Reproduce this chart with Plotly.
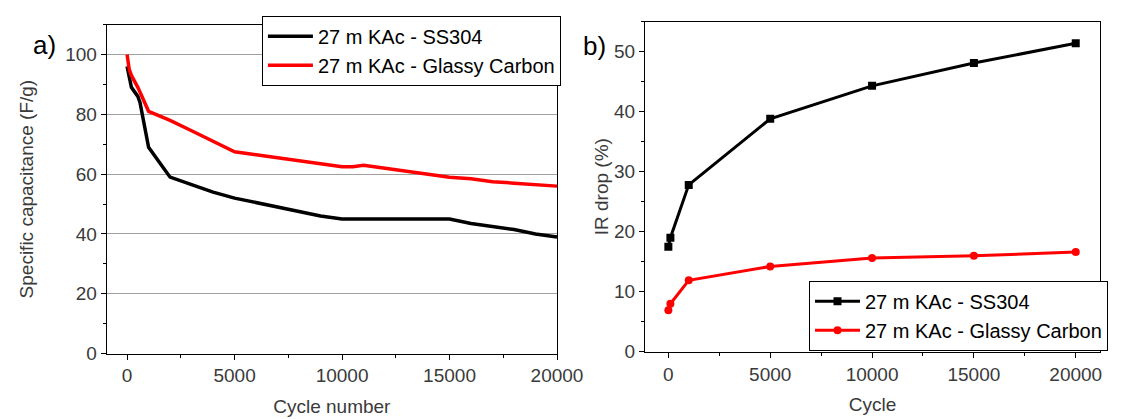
import plotly.graph_objects as go

# Panel a) specific capacitance vs cycle number
cap_ss_x = [0, 100, 200, 300, 500, 600, 700, 1000, 1500, 2000, 3000, 4000, 5000, 6000, 7000,
            8000, 9000, 10000, 11000, 12000, 13000, 14000, 15000, 16000, 17000, 18000, 19000, 20000]
cap_ss_y = [96, 93, 89, 88, 86, 84, 80, 69, 64, 59, 56.5, 54, 52, 50.5, 49,
            47.5, 46, 45, 45, 45, 45, 45, 45, 43.5, 42.5, 41.5, 40, 39]
cap_gc_x = [0, 100, 200, 500, 1000, 2000, 3000, 4000, 5000, 6000, 7000, 8000, 9000, 10000,
            10500, 11000, 12000, 13000, 14000, 15000, 16000, 17000, 18000, 19000, 20000]
cap_gc_y = [100, 95, 93, 89, 81, 78, 74.5, 71, 67.5, 66.5, 65.5, 64.5, 63.5, 62.5,
            62.5, 63, 62, 61, 60, 59, 58.5, 57.5, 57, 56.5, 56]

# Panel b) IR drop vs cycle
ir_x = [0, 100, 1000, 5000, 10000, 15000, 20000]
ir_ss = [17.5, 19, 27.8, 38.8, 44.3, 48.1, 51.4]
ir_gc = [6.9, 8.0, 11.9, 14.2, 15.6, 16.0, 16.6]

name_ss = "27 m KAc - SS304"
name_gc = "27 m KAc - Glassy Carbon"

FONT = "Liberation Sans, Arial, sans-serif"
TXT = "#3a3a3a"
FS = 19

fig = go.Figure()
fig.add_trace(go.Scatter(x=cap_ss_x, y=cap_ss_y, mode="lines", name=name_ss,
                         line=dict(color="black", width=3.5), xaxis="x", yaxis="y", legend="legend"))
fig.add_trace(go.Scatter(x=cap_gc_x, y=cap_gc_y, mode="lines", name=name_gc,
                         line=dict(color="#ff0000", width=3.5), xaxis="x", yaxis="y", legend="legend"))
fig.add_trace(go.Scatter(x=ir_x, y=ir_ss, mode="lines+markers", name=name_ss,
                         line=dict(color="black", width=3),
                         marker=dict(symbol="square", size=8, color="black"),
                         xaxis="x2", yaxis="y2", legend="legend2"))
fig.add_trace(go.Scatter(x=ir_x, y=ir_gc, mode="lines+markers", name=name_gc,
                         line=dict(color="#ff0000", width=3),
                         marker=dict(symbol="circle", size=8, color="#ff0000"),
                         xaxis="x2", yaxis="y2", legend="legend2"))

axcommon = dict(showline=True, linecolor="black", linewidth=1, mirror=True,
                ticks="outside", ticklen=5, tickcolor="black", zeroline=False,
                tickformat="d",
                tickfont=dict(family=FONT, size=FS, color=TXT))
titlefont = dict(family=FONT, size=FS, color=TXT)

fig.update_layout(
    width=1126, height=419,
    margin=dict(l=0, r=0, t=0, b=0),
    paper_bgcolor="white", plot_bgcolor="white",
    font=dict(family=FONT, color=TXT),
    xaxis=dict(domain=[101/1126, 562/1126], range=[-950, 20000], tickvals=[0, 5000, 10000, 15000, 20000],
               minor=dict(ticks="outside", ticklen=3, tickcolor="black", dtick=2500, tick0=0),
               showgrid=False, anchor="y",
               title=dict(text="Cycle number", font=titlefont, standoff=14),
               **axcommon),
    yaxis=dict(domain=[1-355/419, 1-17/419], range=[0, 110], tickvals=[0, 20, 40, 60, 80, 100],
               minor=dict(ticks="outside", ticklen=3, tickcolor="black", dtick=10, tick0=0),
               showgrid=True, gridcolor="#a0a0a0", gridwidth=1, anchor="x",
               title=dict(text="Specific capacitance (F/g)", font=titlefont, standoff=26),
               **axcommon),
    xaxis2=dict(domain=[652/1126, 1118/1126], range=[-1150, 21200], tickvals=[0, 5000, 10000, 15000, 20000],
                minor=dict(ticks="outside", ticklen=3, tickcolor="black", dtick=2500, tick0=0),
                showgrid=False, anchor="y2",
                title=dict(text="Cycle", font=titlefont, standoff=14),
                **axcommon),
    yaxis2=dict(domain=[1-353/419, 1-14/419], range=[0, 55], tickvals=[0, 10, 20, 30, 40, 50],
                minor=dict(ticks="outside", ticklen=3, tickcolor="black", dtick=5, tick0=0),
                showgrid=False, anchor="x2",
                title=dict(text="IR drop (%)", font=titlefont, standoff=0),
                **axcommon),
    legend=dict(x=566/1126, y=1-8/419, xanchor="right", yanchor="top",
                bgcolor="white", bordercolor="black", borderwidth=1,
                font=dict(family=FONT, size=20, color="black"), tracegroupgap=0,
                itemwidth=45),
    legend2=dict(x=1126/1126, y=1-352/419, xanchor="right", yanchor="bottom",
                 bgcolor="white", bordercolor="black", borderwidth=1,
                 font=dict(family=FONT, size=20, color="black"), tracegroupgap=0,
                 itemwidth=45),
    showlegend=True,
    annotations=[
        dict(text="a)", x=37/1126, y=1-38/419, xref="paper", yref="paper", showarrow=False,
             font=dict(family=FONT, size=26, color="black"), xanchor="center", yanchor="middle"),
        dict(text="b)", x=600/1126, y=1-39/419, xref="paper", yref="paper", showarrow=False,
             font=dict(family=FONT, size=26, color="black"), xanchor="center", yanchor="middle"),
    ],
)

fig.write_html("out.html")
